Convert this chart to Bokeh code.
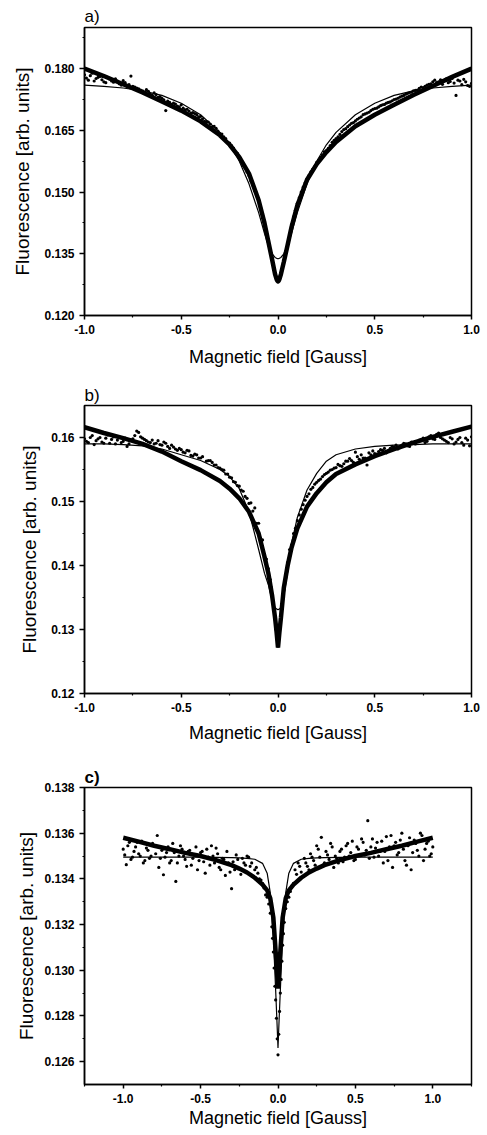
from bokeh.plotting import figure
from bokeh.layouts import column
from bokeh.models import FixedTicker, PrintfTickFormatter, Range1d
from bokeh.embed import file_html
from bokeh.resources import INLINE

# ---------------- data ----------------
x_data = [
    -1.00, -0.98, -0.96, -0.94, -0.92, -0.90, -0.88, -0.86,
    -0.84, -0.82, -0.80, -0.78, -0.76, -0.74, -0.72, -0.70,
    -0.68, -0.66, -0.64, -0.62, -0.60, -0.58, -0.56, -0.54,
    -0.52, -0.50, -0.48, -0.46, -0.44, -0.42, -0.40, -0.38,
    -0.36, -0.34, -0.32, -0.30, -0.28, -0.26, -0.24, -0.22,
    -0.20, -0.18, -0.16, -0.14, -0.12, -0.10, -0.08, -0.06,
    -0.05, -0.04, -0.035, -0.03, -0.025, -0.02, -0.015, -0.01, -0.005, 0.0,
    0.005, 0.01, 0.015, 0.02, 0.025, 0.03, 0.035, 0.04, 0.05,
    0.06, 0.08, 0.10, 0.12, 0.14, 0.16, 0.18, 0.20,
    0.22, 0.24, 0.26, 0.28, 0.30, 0.32, 0.34, 0.36,
    0.38, 0.40, 0.42, 0.44, 0.46, 0.48, 0.50, 0.52,
    0.54, 0.56, 0.58, 0.60, 0.62, 0.64, 0.66, 0.68,
    0.70, 0.72, 0.74, 0.76, 0.78, 0.80, 0.82, 0.84,
    0.86, 0.88, 0.90, 0.92, 0.94, 0.96, 0.98, 1.00,
]

x_data2 = [
    -0.99, -0.97, -0.95, -0.93, -0.91, -0.89, -0.87, -0.85,
    -0.83, -0.81, -0.79, -0.77, -0.75, -0.73, -0.71, -0.69,
    -0.67, -0.65, -0.63, -0.61, -0.59, -0.57, -0.55, -0.53,
    -0.51, -0.49, -0.47, -0.45, -0.43, -0.41, -0.39, -0.37,
    -0.35, -0.33, -0.31, -0.29, -0.27, -0.25, -0.23, -0.21,
    -0.19, -0.17, -0.15, -0.13, -0.11, -0.09, -0.07,
    0.07, 0.09, 0.11, 0.13, 0.15, 0.17, 0.19, 0.21,
    0.23, 0.25, 0.27, 0.29, 0.31, 0.33, 0.35, 0.37,
    0.39, 0.41, 0.43, 0.45, 0.47, 0.49, 0.51, 0.53,
    0.55, 0.57, 0.59, 0.61, 0.63, 0.65, 0.67, 0.69,
    0.71, 0.73, 0.75, 0.77, 0.79, 0.81, 0.83, 0.85,
    0.87, 0.89, 0.91, 0.93, 0.95, 0.97, 0.99,
]

a_data = [
    0.1785, 0.1772, 0.1789, 0.1776, 0.1781, 0.1768, 0.1779, 0.1770,
    0.1775, 0.1763, 0.1771, 0.1758, 0.1782, 0.1755, 0.1751, 0.1746,
    0.1749, 0.1738, 0.1741, 0.1730, 0.1728, 0.1698, 0.1718, 0.1716,
    0.1709, 0.1712, 0.1700, 0.1697, 0.1693, 0.1688, 0.1684, 0.1672,
    0.1670, 0.1658, 0.1655, 0.1642, 0.1634, 0.1621, 0.1613, 0.1597,
    0.1583, 0.1565, 0.1549, 0.1527, 0.1503, 0.1478, 0.1447, 0.1404,
    0.1382, 0.1360, 0.1349, 0.1338, 0.1325, 0.1313, 0.1302, 0.1292, 0.1285, 0.1281,
    0.1284, 0.1291, 0.1300, 0.1311, 0.1322, 0.1334, 0.1344, 0.1355, 0.1376,
    0.1398, 0.1440, 0.1473, 0.1500, 0.1522, 0.1540, 0.1556, 0.1572,
    0.1584, 0.1598, 0.1606, 0.1621, 0.1630, 0.1640, 0.1652, 0.1659,
    0.1667, 0.1673, 0.1680, 0.1688, 0.1692, 0.1698, 0.1703, 0.1707,
    0.1712, 0.1716, 0.1719, 0.1725, 0.1728, 0.1733, 0.1738, 0.1742,
    0.1746, 0.1748, 0.1755, 0.1757, 0.1762, 0.1768, 0.1766, 0.1773,
    0.1771, 0.1766, 0.1776, 0.1735, 0.1770, 0.1774, 0.1759, 0.1764,
]
a_data2 = [
    0.1777, 0.1783, 0.1770, 0.1779, 0.1773, 0.1766, 0.1775, 0.1767,
    0.1770, 0.1760, 0.1766, 0.1761, 0.1757, 0.1753, 0.1748, 0.1743,
    0.1745, 0.1735, 0.1737, 0.1732, 0.1724, 0.1721, 0.1713, 0.1714,
    0.1707, 0.1704, 0.1701, 0.1692, 0.1691, 0.1683, 0.1678, 0.1671,
    0.1665, 0.1660, 0.1648, 0.1641, 0.1630, 0.1619, 0.1607, 0.1594,
    0.1576, 0.1559, 0.1540, 0.1517, 0.1492, 0.1463, 0.1428,
    0.1421, 0.1456, 0.1486, 0.1512, 0.1531, 0.1549, 0.1562, 0.1578,
    0.1590, 0.1601, 0.1613, 0.1626, 0.1634, 0.1647, 0.1654, 0.1663,
    0.1669, 0.1677, 0.1683, 0.1690, 0.1694, 0.1701, 0.1704, 0.1710,
    0.1713, 0.1718, 0.1722, 0.1726, 0.1731, 0.1735, 0.1740, 0.1743,
    0.1747, 0.1752, 0.1754, 0.1760, 0.1763, 0.1772, 0.1768, 0.1762,
    0.1775, 0.1769, 0.1765, 0.1772, 0.1761, 0.1768, 0.1757,
]

b_data = [
    0.1598, 0.1592, 0.1603, 0.1595, 0.1600, 0.1591, 0.1604, 0.1597,
    0.1590, 0.1600, 0.1594, 0.1586, 0.1596, 0.1603, 0.1608, 0.1599,
    0.1595, 0.1592, 0.1590, 0.1595, 0.1588, 0.1591, 0.1583, 0.1585,
    0.1580, 0.1581, 0.1576, 0.1579, 0.1571, 0.1573, 0.1568, 0.1545,
    0.1564, 0.1561, 0.1557, 0.1552, 0.1549, 0.1543, 0.1537, 0.1530,
    0.1524, 0.1516, 0.1505, 0.1498, 0.1490, 0.1466, 0.1440, 0.1410,
    0.1395, 0.1378, 0.1366, 0.1355, 0.1343, 0.1331, 0.1316, 0.1300, 0.1285, 0.1274,
    0.1288, 0.1305, 0.1322, 0.1337, 0.1350, 0.1362, 0.1374, 0.1386, 0.1405,
    0.1425, 0.1450, 0.1470, 0.1488, 0.1502, 0.1512, 0.1522, 0.1530,
    0.1535, 0.1542, 0.1546, 0.1550, 0.1553, 0.1556, 0.1559, 0.1563,
    0.1564, 0.1577, 0.1566, 0.1568, 0.1557, 0.1573, 0.1575, 0.1578,
    0.1580, 0.1576, 0.1583, 0.1585, 0.1582, 0.1588, 0.1590, 0.1586,
    0.1592, 0.1594, 0.1597, 0.1592, 0.1601, 0.1598, 0.1605, 0.1600,
    0.1596, 0.1592, 0.1598, 0.1593, 0.1600, 0.1588, 0.1596, 0.1601,
]
b_data2 = [
    0.1594, 0.1600, 0.1589, 0.1598, 0.1593, 0.1599, 0.1591, 0.1601,
    0.1596, 0.1592, 0.1599, 0.1590, 0.1598, 0.1610, 0.1601, 0.1597,
    0.1593, 0.1596, 0.1591, 0.1589, 0.1593, 0.1586, 0.1588, 0.1582,
    0.1583, 0.1577, 0.1580, 0.1572, 0.1574, 0.1568, 0.1570, 0.1563,
    0.1564, 0.1557, 0.1553, 0.1550, 0.1543, 0.1538, 0.1531, 0.1525,
    0.1518, 0.1508, 0.1497, 0.1485, 0.1466, 0.1443, 0.1412,
    0.1432, 0.1458, 0.1479, 0.1495, 0.1508, 0.1519, 0.1527, 0.1533,
    0.1539, 0.1544, 0.1549, 0.1552, 0.1558, 0.1555, 0.1563, 0.1567,
    0.1561, 0.1570, 0.1573, 0.1568, 0.1576, 0.1579, 0.1574, 0.1581,
    0.1583, 0.1579, 0.1586, 0.1588, 0.1584, 0.1591, 0.1587, 0.1593,
    0.1590, 0.1596, 0.1599, 0.1594, 0.1603, 0.1597, 0.1607, 0.1598,
    0.1594, 0.1600, 0.1590, 0.1597, 0.1592, 0.1599, 0.1587,
]

c_data = [
    0.13530, 0.13462, 0.13560, 0.13495, 0.13540, 0.13510, 0.13565, 0.13480,
    0.13525, 0.13500, 0.13545, 0.13590, 0.13490, 0.13418, 0.13515, 0.13470,
    0.13555, 0.13389, 0.13500, 0.13530, 0.13485, 0.13520, 0.13460, 0.13505,
    0.13440, 0.13515, 0.13475, 0.13530, 0.13460, 0.13500, 0.13535, 0.13450,
    0.13490, 0.13415, 0.13470, 0.13357, 0.13440, 0.13485, 0.13420, 0.13470,
    0.13500, 0.13455, 0.13410, 0.13450, 0.13400, 0.13380, 0.13330, 0.13290,
    0.13250, 0.13190, 0.13140, 0.13080, 0.13010, 0.12930, 0.12870, 0.12790, 0.12700, 0.12630,
    0.12720, 0.12820, 0.12900, 0.12960, 0.13040, 0.13110, 0.13160, 0.13210, 0.13270,
    0.13300, 0.13345, 0.13380, 0.13420, 0.13455, 0.13410, 0.13470, 0.13440,
    0.13495, 0.13460, 0.13530, 0.13582, 0.13470, 0.13505, 0.13555, 0.13450,
    0.13490, 0.13520, 0.13475, 0.13545, 0.13500, 0.13565, 0.13485, 0.13530,
    0.13575, 0.13505, 0.13655, 0.13540, 0.13495, 0.13560, 0.13520, 0.13470,
    0.13585, 0.13540, 0.13450, 0.13560, 0.13515, 0.13600, 0.13480, 0.13545,
    0.13440, 0.13570, 0.13525, 0.13600, 0.13480, 0.13555, 0.13500, 0.13540,
]
c_data2 = [
    0.13505, 0.13545, 0.13485, 0.13520, 0.13560, 0.13500, 0.13470, 0.13535,
    0.13490, 0.13555, 0.13510, 0.13450, 0.13525, 0.13495, 0.13540, 0.13480,
    0.13515, 0.13470, 0.13545, 0.13500, 0.13455, 0.13525, 0.13490, 0.13540,
    0.13480, 0.13520, 0.13425, 0.13495, 0.13545, 0.13470, 0.13510, 0.13440,
    0.13485, 0.13520, 0.13430, 0.13475, 0.13505, 0.13445, 0.13490, 0.13460,
    0.13495, 0.13470, 0.13440, 0.13425, 0.13395, 0.13360, 0.13320,
    0.13320, 0.13370, 0.13440, 0.13470, 0.13430, 0.13490, 0.13455, 0.13510,
    0.13480, 0.13545, 0.13495, 0.13460, 0.13520, 0.13485, 0.13540, 0.13500,
    0.13470, 0.13530, 0.13495, 0.13555, 0.13515, 0.13480, 0.13540, 0.13505,
    0.13560, 0.13525, 0.13490, 0.13575, 0.13535, 0.13500, 0.13565, 0.13520,
    0.13480, 0.13590, 0.13545, 0.13505, 0.13570, 0.13530, 0.13460, 0.13580,
    0.13515, 0.13555, 0.13500, 0.13590, 0.13530, 0.13565, 0.13510,
]

x_fit = [-1.0, -0.9, -0.8, -0.7, -0.6, -0.5, -0.4, -0.3, -0.25, -0.2, -0.15, -0.1,
         -0.07, -0.05, -0.03, -0.015, -0.007, 0.0, 0.007, 0.015, 0.03, 0.05, 0.07,
         0.1, 0.15, 0.2, 0.25, 0.3, 0.4, 0.5, 0.6, 0.7, 0.8, 0.9, 1.0]

a_thick = [0.1800, 0.1782, 0.1762, 0.1742, 0.1720, 0.1698, 0.1672, 0.1638, 0.1615,
           0.1585, 0.1545, 0.1480, 0.1425, 0.1380, 0.1335, 0.1300, 0.1288, 0.1282,
           0.1288, 0.1300, 0.1330, 0.1372, 0.1415, 0.1468, 0.1530, 0.1568, 0.1597,
           0.1622, 0.1660, 0.1688, 0.1712, 0.1736, 0.1758, 0.1780, 0.1800]
a_thin = [0.1760, 0.1757, 0.1753, 0.1746, 0.1735, 0.1716, 0.1688, 0.1645, 0.1615,
          0.1575, 0.1520, 0.1450, 0.1400, 0.1370, 0.1350, 0.1341, 0.1339, 0.1338,
          0.1339, 0.1341, 0.1350, 0.1370, 0.1400, 0.1450, 0.1520, 0.1575, 0.1615,
          0.1645, 0.1688, 0.1716, 0.1735, 0.1746, 0.1753, 0.1757, 0.1760]

b_thick = [0.1616, 0.1607, 0.1599, 0.1590, 0.1578, 0.1563, 0.1549, 0.1532, 0.1520,
           0.1505, 0.1484, 0.1450, 0.1414, 0.1388, 0.1352, 0.1318, 0.1295, 0.1272,
           0.1295, 0.1318, 0.1365, 0.1400, 0.1428, 0.1458, 0.1492, 0.1513, 0.1530,
           0.1543, 0.1558, 0.1571, 0.1582, 0.1592, 0.1601, 0.1609, 0.1617]
b_thin = [0.1590, 0.1590, 0.1589, 0.1587, 0.1582, 0.1573, 0.1564, 0.1550, 0.1539,
          0.1520, 0.1484, 0.1425, 0.1388, 0.1370, 0.1345, 0.1334, 0.1332, 0.1331,
          0.1332, 0.1334, 0.1352, 0.1390, 0.1435, 0.1475, 0.1518, 0.1544, 0.1563,
          0.1573, 0.1582, 0.1586, 0.1588, 0.1589, 0.1590, 0.1590, 0.1590]

c_thick = [0.13580, 0.13563, 0.13545, 0.13530, 0.13514, 0.13500, 0.13482, 0.13460, 0.13445,
           0.13428, 0.13405, 0.13375, 0.13350, 0.13315, 0.13230, 0.13080, 0.13000, 0.12920,
           0.13000, 0.13080, 0.13230, 0.13315, 0.13350, 0.13375, 0.13405, 0.13428, 0.13445,
           0.13460, 0.13482, 0.13500, 0.13514, 0.13530, 0.13545, 0.13563, 0.13580]
c_thin = [0.13495, 0.13495, 0.13495, 0.13495, 0.13495, 0.13495, 0.13494, 0.13493, 0.13492,
          0.13490, 0.13486, 0.13468, 0.13425, 0.13340, 0.13150, 0.12910, 0.12780, 0.12660,
          0.12780, 0.12910, 0.13150, 0.13340, 0.13425, 0.13468, 0.13486, 0.13490, 0.13492,
          0.13493, 0.13494, 0.13495, 0.13495, 0.13495, 0.13495, 0.13495, 0.13495]

x_ticks = [-1.0, -0.5, 0.0, 0.5, 1.0]
a_yticks = [0.120, 0.135, 0.150, 0.165, 0.180]
b_yticks = [0.12, 0.13, 0.14, 0.15, 0.16]
c_yticks = [0.126, 0.128, 0.130, 0.132, 0.134, 0.136, 0.138]

X_LABEL = "Magnetic field [Gauss]"
Y_LABEL = "Fluorescence [arb. units]"
FONT = "Liberation Sans"


def panel(label, label_bold, ydata, ydata2, thick, thin, xr, yr, yticks, yminor, xminor, yfmt,
          height, top, bottom, left, right, title_standoff, xlab_standoff, ylab_standoff):
    p = figure(width=487, height=height, output_backend="svg", toolbar_location=None,
               x_range=Range1d(*xr), y_range=Range1d(*yr),
               min_border_top=top, min_border_bottom=bottom,
               min_border_left=left, min_border_right=right)
    p.background_fill_color = "white"
    p.border_fill_color = "white"
    p.outline_line_color = "black"
    p.outline_line_width = 1.5
    p.outline_line_alpha = 1.0
    p.xgrid.visible = False
    p.ygrid.visible = False

    p.title.text = label
    p.title.align = "left"
    p.title.text_font = FONT
    p.title.text_font_size = "17px"
    p.title.text_font_style = "bold" if label_bold else "normal"
    p.title.text_color = "black"
    p.title.standoff = title_standoff
    p.title.offset = 0

    p.xaxis.ticker = FixedTicker(ticks=x_ticks, minor_ticks=xminor)
    p.xaxis.formatter = PrintfTickFormatter(format="%.1f")
    p.yaxis.ticker = FixedTicker(ticks=yticks, minor_ticks=yminor)
    p.yaxis.formatter = PrintfTickFormatter(format=yfmt)
    p.xaxis.axis_label = X_LABEL
    p.yaxis.axis_label = Y_LABEL
    for ax in (p.xaxis, p.yaxis):
        ax.axis_line_color = "black"
        ax.axis_line_width = 1.5
        ax.major_tick_line_color = "black"
        ax.major_tick_line_width = 1.5
        ax.minor_tick_line_color = "black"
        ax.minor_tick_line_width = 1.2
        ax.major_tick_in = 0
        ax.major_tick_out = 4
        ax.minor_tick_in = 0
        ax.minor_tick_out = 2
        ax.major_label_text_font = FONT
        ax.major_label_text_font_size = "12px"
        ax.major_label_text_font_style = "bold"
        ax.major_label_text_color = "black"
        ax.axis_label_text_font = FONT
        ax.axis_label_text_font_style = "normal"
        ax.axis_label_text_color = "black"
    p.xaxis.axis_label_text_font_size = "18px"
    p.yaxis.axis_label_text_font_size = "19px"
    p.xaxis.major_label_standoff = 5
    p.yaxis.major_label_standoff = 5
    p.xaxis.axis_label_standoff = xlab_standoff
    p.yaxis.axis_label_standoff = ylab_standoff
    p.yaxis.major_tick_out = 5

    p.scatter(x_data, ydata, size=3.2, color="black", line_width=0)
    p.scatter(x_data2, ydata2, size=3.2, color="black", line_width=0)
    p.line(x_fit, thin, line_color="black", line_width=1.2)
    p.line(x_fit, thick, line_color="black", line_width=4.5)
    return p


pa = panel("a)", False, a_data, a_data2, a_thick, a_thin, (-1.0, 1.0), (0.120, 0.190),
           a_yticks, [0.1275, 0.1425, 0.1575, 0.1725, 0.1875],
           [-0.75, -0.25, 0.25, 0.75], "%.3f",
           370, 27, 55, 84, 9, 3, 10, 8)
pb = panel("b)", False, b_data, b_data2, b_thick, b_thin, (-1.0, 1.0), (0.120, 0.165),
           b_yticks, [0.125, 0.135, 0.145, 0.155],
           [-0.75, -0.25, 0.25, 0.75], "%.2f",
           375, 35, 51, 77, 16, 1, 8, 8)
pc = panel("c)", True, c_data, c_data2, c_thick, c_thin, (-1.25, 1.25), (0.125, 0.138),
           c_yticks, [0.127, 0.129, 0.131, 0.133, 0.135, 0.137],
           [-1.25, -0.75, -0.25, 0.25, 0.75, 1.25], "%.3f",
           390, 42, 51, 80, 4, 2, 2, 4)

layout = column(pa, pb, pc, spacing=0)
open("out.html", "w").write(file_html(layout, INLINE))
